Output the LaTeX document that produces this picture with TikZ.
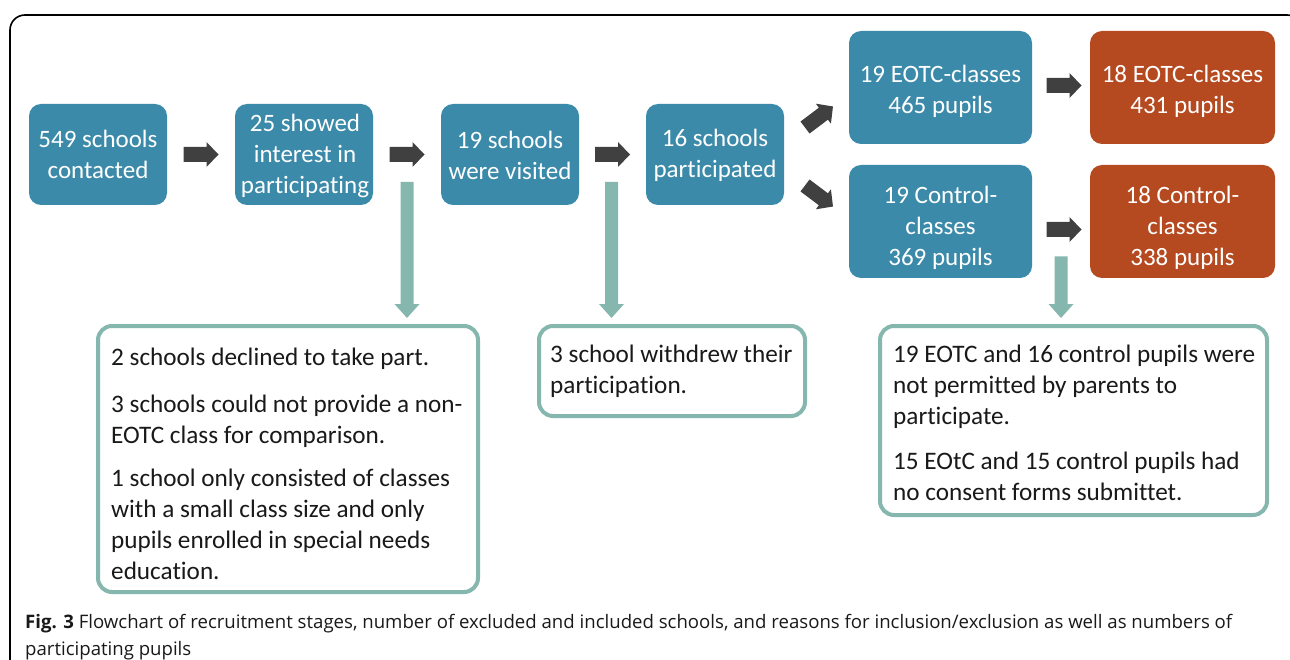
\documentclass[tikz,border=0pt]{standalone}
\usepackage{fontspec}
\setmainfont{Carlito}[Ligatures=NoCommon]
\newfontfamily\capfont{Open Sans}
\usetikzlibrary{calc}
\definecolor{boxblue}{RGB}{59,138,169}
\definecolor{boxorange}{RGB}{181,73,31}
\definecolor{boxgreen}{RGB}{133,183,174}
\definecolor{arrowgray}{RGB}{64,64,64}
\definecolor{txtdark}{RGB}{25,25,25}
\tikzset{
  bluebox/.style={fill=boxblue, rounded corners=12pt, inner sep=0pt},
  orangebox/.style={bluebox, fill=boxorange},
  boxtext/.style={text=white, align=center, inner sep=0pt, font=\fontsize{25}{31}\selectfont},
  notebox/.style={draw=boxgreen, line width=4pt, rounded corners=14pt, fill=white, inner sep=0pt},
  notetext/.style={text=txtdark, align=left, inner sep=0pt, anchor=west, font=\fontsize{25.2}{31}\selectfont},
  captext/.style={anchor=base west, inner sep=0pt, text=txtdark, font=\capfont\fontsize{18.6}{27}\selectfont},
  darr/.pic={\fill[arrowgray] (-17.5,-7.5) -- (5.5,-7.5) -- (5.5,-12.5) -- (17.5,0) -- (5.5,12.5) -- (5.5,7.5) -- (-17.5,7.5) -- cycle;}
}
\newcommand\greenarrow[2]{%
  \fill[boxgreen] let \p1=(#1), \p2=(#2) in
    (\x1-6.5pt,\y1) -- (\x1-6.5pt,\y2+14pt) -- (\x1-12.5pt,\y2+14pt) -- (\x1,\y2)
    -- (\x1+12.5pt,\y2+14pt) -- (\x1+6.5pt,\y2+14pt) -- (\x1+6.5pt,\y1) -- cycle;}
\begin{document}
\begin{tikzpicture}[x=1pt,y=-1pt]
\useasboundingbox (0,0) rectangle (1290,660);
\begin{scope}
  \clip (0,0) rectangle (1290,660);
  \draw[line width=1.6pt, rounded corners=15pt] (10,15) rectangle (1302,720);
\end{scope}

% top row boxes
\node[bluebox, minimum width=138, minimum height=101] (b1) at (98,154.5) {};
\node[bluebox, minimum width=138, minimum height=101] (b2) at (304,154.5) {};
\node[bluebox, minimum width=138, minimum height=101] (b3) at (510,154.5) {};
\node[bluebox, minimum width=138, minimum height=101] (b4) at (715,154.5) {};
\node[bluebox, minimum width=183, minimum height=113] (b5) at (940.5,87.5) {};
\node[bluebox, minimum width=183, minimum height=113] (b6) at (940.5,221.5) {};
\node[orangebox, minimum width=185, minimum height=113] (b7) at (1182.5,87.5) {};
\node[orangebox, minimum width=185, minimum height=113] (b8) at (1182.5,221.5) {};

\node[boxtext] (t1) at ($(b1.center)+(0,0)$) {549 schools\\contacted};
\node[boxtext] (t2) at ($(b2.center)+(1,1)$) {25 showed\\interest in\\participating};
\node[boxtext] (t3) at ($(b3.center)+(0,0.5)$) {19 schools\\were visited};
\node[boxtext] (t4) at ($(b4.center)+(0,1)$) {16 schools\\participated};
\node[boxtext] (t5) at ($(b5.center)+(0,3.5)$) {19 EOTC-classes\\465 pupils};
\node[boxtext] (t6) at ($(b6.center)+(0,6.5)$) {19 Control-\\classes\\369 pupils};
\node[boxtext] (t7) at ($(b7.center)+(0,3.5)$) {18 EOTC-classes\\431 pupils};
\node[boxtext] (t8) at ($(b8.center)+(0,6.5)$) {18 Control-\\classes\\338 pupils};

% dark block arrows
\path ($(b1.east)!0.5!(b2.west)$) pic {darr};
\path ($(b2.east)!0.5!(b3.west)$) pic {darr};
\path ($(b3.east)!0.5!(b4.west)$) pic {darr};
\path ($(b4.east)!0.5!(b5.west)+(2.5,-4)$) pic[rotate=37] {darr};
\path ($(b4.east)!0.5!(b6.west)+(2.5,8)$) pic[rotate=-37] {darr};
\path ($(b5.east)!0.5!(b7.west)+(3,-2)$) pic {darr};
\path ($(b6.east)!0.5!(b8.west)+(3,8)$) pic {darr};

% note boxes
\node[notebox, minimum width=380, minimum height=266] (g1) at (288,459) {};
\node[notebox, minimum width=266, minimum height=90] (g2) at (672,371) {};
\node[notebox, minimum width=387, minimum height=189] (g3) at (1073.5,420.5) {};
\node[notetext] (n1) at ($(g1.west)+(15,4.5)$)
 {2 schools declined to take part.\\[16pt]
  3 schools could not provide a non-\\EOTC class for comparison.\\[12pt]
  1 school only consisted of classes\\with a small class size and only\\pupils enrolled in special needs\\education.};
\node[notetext] (n2) at ($(g2.west)+(13,0)$)
 {3 school withdrew their\\participation.};
\node[notetext] (n3) at ($(g3.west)+(15,2)$)
 {19 EOTC and 16 control pupils were\\not permitted by parents to\\participate.\\[14pt]
  15 EOtC and 15 control pupils had\\no consent forms submittet.};

% green arrows
\coordinate (s1) at ($(b2.east)!0.5!(b3.west)+(0,27.5)$);
\coordinate (s2) at ($(b3.east)!0.5!(b4.west)+(-1,27.5)$);
\coordinate (s3) at ($(b6.east)!0.5!(b8.west)+(0,35)$);
\greenarrow{s1}{$(s1 |- g1.north)+(0,-6)$}
\greenarrow{s2}{$(s2 |- g2.north)+(0,-6)$}
\greenarrow{s3}{$(s3 |- g3.north)+(0,-6)$}

% caption
\node[captext] (cap1) at (25,628)
 {\textbf{Fig. 3} Flowchart of recruitment stages, number of excluded and included schools, and reasons for inclusion/exclusion as well as numbers of};
\node[captext] (cap2) at (25,655) {participating pupils};
\end{tikzpicture}
\end{document}
